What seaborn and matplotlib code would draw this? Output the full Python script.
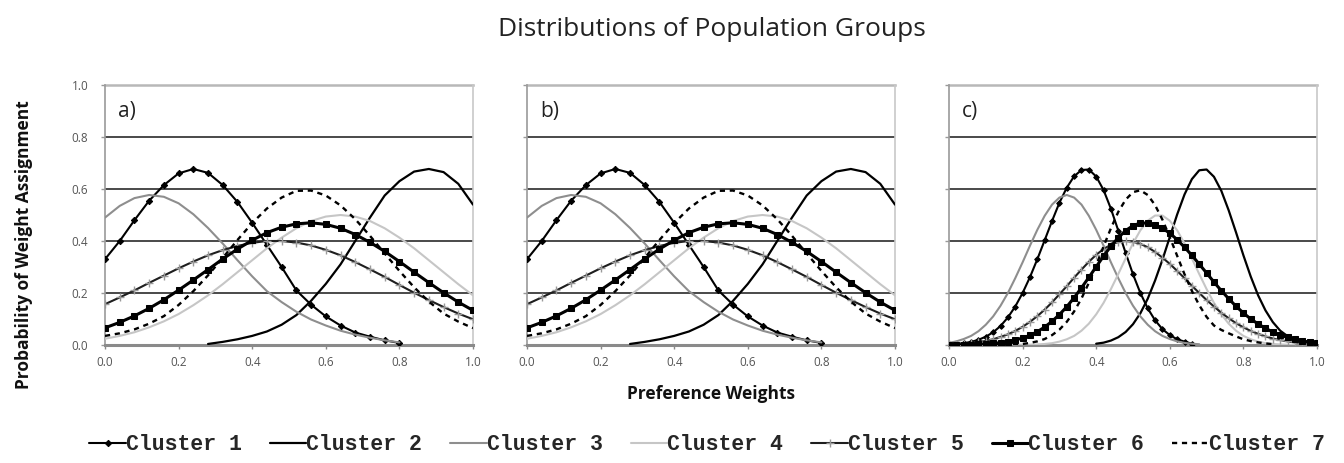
import numpy as np
import matplotlib
matplotlib.use("Agg")
import matplotlib.pyplot as plt
import seaborn as sns
from matplotlib.font_manager import FontProperties

nan = np.nan

# ---------------- data ----------------
# x positions for panels a) and b)
X_ab = [0.00, 0.04, 0.08, 0.12, 0.16, 0.20, 0.24, 0.28, 0.32, 0.36, 0.40, 0.44, 0.48,
        0.52, 0.56, 0.60, 0.64, 0.68, 0.72, 0.76, 0.80, 0.84, 0.88, 0.92, 0.96, 1.00]
# x positions for panel c)
X_c = [0.00, 0.02, 0.04, 0.06, 0.08, 0.10, 0.12, 0.14, 0.16, 0.18, 0.20, 0.22, 0.24,
       0.26, 0.28, 0.30, 0.32, 0.34, 0.36, 0.38, 0.40, 0.42, 0.44, 0.46, 0.48, 0.50,
       0.52, 0.54, 0.56, 0.58, 0.60, 0.62, 0.64, 0.66, 0.68, 0.70, 0.72, 0.74, 0.76,
       0.78, 0.80, 0.82, 0.84, 0.86, 0.88, 0.90, 0.92, 0.94, 0.96, 0.98, 1.00]

panel_labels = ["a)", "b)", "c)"]
cluster_names = ["Cluster 1", "Cluster 2", "Cluster 3", "Cluster 4",
                 "Cluster 5", "Cluster 6", "Cluster 7"]
x_ticks = [0.0, 0.2, 0.4, 0.6, 0.8, 1.0]
x_tick_labels = ["0.0", "0.2", "0.4", "0.6", "0.8", "1.0"]
y_ticks = [0.0, 0.2, 0.4, 0.6, 0.8, 1.0]
y_tick_labels = ["0.0", "0.2", "0.4", "0.6", "0.8", "1.0"]

# panels a) and b)
c1_ab = [0.33, 0.40, 0.48, 0.555, 0.615, 0.66, 0.677, 0.662, 0.615, 0.55, 0.47, 0.385, 0.30,
         0.21, 0.155, 0.11, 0.075, 0.048, 0.032, 0.018, 0.008, nan, nan, nan, nan, nan]
c2_ab = [nan, nan, nan, nan, nan, nan, nan, 0.004, 0.012, 0.022, 0.035, 0.052, 0.078,
         0.115, 0.17, 0.235, 0.31, 0.40, 0.49, 0.575, 0.63, 0.667, 0.677, 0.665, 0.62, 0.54]
c3_ab = [0.49, 0.535, 0.565, 0.577, 0.57, 0.545, 0.503, 0.45, 0.39, 0.326, 0.264, 0.207, 0.165,
         0.128, 0.098, 0.075, 0.055, 0.04, 0.028, 0.018, 0.01, nan, nan, nan, nan, nan]
c4_ab = [0.024, 0.035, 0.049, 0.068, 0.091, 0.119, 0.153, 0.191, 0.234, 0.28, 0.326, 0.372, 0.413,
         0.449, 0.477, 0.494, 0.5, 0.494, 0.477, 0.449, 0.413, 0.372, 0.326, 0.28, 0.234, 0.191]
c5_ab = [0.157, 0.183, 0.21, 0.239, 0.267, 0.295, 0.321, 0.345, 0.365, 0.381, 0.393, 0.40, 0.40,
         0.394, 0.383, 0.366, 0.345, 0.319, 0.291, 0.262, 0.231, 0.201, 0.173, 0.146, 0.121, 0.099]
c6_ab = [0.066, 0.087, 0.112, 0.141, 0.174, 0.211, 0.25, 0.29, 0.331, 0.369, 0.403, 0.432, 0.453,
         0.466, 0.47, 0.464, 0.449, 0.425, 0.395, 0.36, 0.321, 0.28, 0.24, 0.201, 0.165, 0.133]
c7_ab = [0.035, 0.045, 0.06, 0.082, 0.111, 0.154, 0.207, 0.268, 0.335, 0.404, 0.469, 0.525, 0.567,
         0.593, 0.594, 0.575, 0.537, 0.484, 0.42, 0.352, 0.285, 0.222, 0.167, 0.121, 0.09, 0.065]

# panel c)
c1_c = [0.002, 0.004, 0.007, 0.012, 0.02, 0.032, 0.049, 0.073, 0.106, 0.148, 0.2, 0.261, 0.33,
        0.403, 0.477, 0.547, 0.605, 0.649, 0.673, 0.675, 0.648, 0.596, 0.524, 0.44, 0.354, 0.272,
        0.2, 0.141, 0.095, 0.061, 0.038, 0.022, 0.013, 0.005, nan, nan, nan, nan, nan,
        nan, nan, nan, nan, nan, nan, nan, nan, nan, nan, nan, nan]
c2_c = [nan, nan, nan, nan, nan, nan, nan, nan, nan, nan, nan, nan, nan,
        nan, nan, nan, nan, nan, nan, nan, 0.005, 0.009, 0.017, 0.03, 0.05, 0.08,
        0.122, 0.178, 0.248, 0.328, 0.415, 0.502, 0.579, 0.638, 0.672, 0.675, 0.647, 0.593, 0.518,
        0.433, 0.345, 0.263, 0.191, 0.133, 0.088, 0.055, 0.034, 0.019, 0.011, 0.006, 0.003]
c3_c = [0.008, 0.014, 0.023, 0.035, 0.053, 0.078, 0.11, 0.151, 0.2, 0.257, 0.318, 0.382, 0.443,
        0.497, 0.54, 0.567, 0.577, 0.567, 0.54, 0.497, 0.443, 0.382, 0.318, 0.257, 0.2, 0.151,
        0.11, 0.078, 0.053, 0.035, 0.023, 0.014, 0.008, 0.005, 0.003, nan, nan, nan, nan,
        nan, nan, nan, nan, nan, nan, nan, nan, nan, nan, nan, nan]
c4_c = [nan, nan, nan, nan, nan, nan, 0.0, 0.0, 0.0, 0.0, 0.001, 0.001, 0.002,
        0.004, 0.007, 0.013, 0.022, 0.035, 0.055, 0.082, 0.118, 0.162, 0.215, 0.273, 0.333, 0.391,
        0.441, 0.478, 0.498, 0.498, 0.478, 0.441, 0.391, 0.333, 0.273, 0.215, 0.162, 0.118, 0.082,
        0.055, 0.035, 0.022, 0.013, 0.007, 0.004, 0.002, 0.001, 0.0, nan, nan, nan]
c5_c = [0.002, 0.004, 0.005, 0.008, 0.011, 0.016, 0.022, 0.031, 0.041, 0.054, 0.07, 0.089, 0.111,
        0.136, 0.164, 0.195, 0.226, 0.259, 0.29, 0.32, 0.347, 0.369, 0.386, 0.396, 0.40, 0.397,
        0.389, 0.376, 0.358, 0.336, 0.312, 0.285, 0.257, 0.228, 0.2, 0.173, 0.148, 0.124, 0.103,
        0.084, 0.068, 0.054, 0.043, 0.033, 0.025, 0.019, 0.014, 0.01, 0.007, 0.005, 0.004]
c6_c = [0.0, 0.0, 0.001, 0.001, 0.002, 0.004, 0.006, 0.009, 0.013, 0.019, 0.027, 0.037, 0.051,
        0.069, 0.091, 0.117, 0.147, 0.182, 0.22, 0.26, 0.301, 0.342, 0.38, 0.413, 0.44, 0.459,
        0.469, 0.469, 0.462, 0.449, 0.43, 0.405, 0.376, 0.345, 0.311, 0.277, 0.242, 0.209, 0.178,
        0.149, 0.123, 0.1, 0.081, 0.064, 0.05, 0.038, 0.029, 0.022, 0.016, 0.011, 0.008]
c7_c = [nan, nan, nan, nan, nan, nan, 0.0, 0.0, 0.001, 0.002, 0.004, 0.008, 0.014,
        0.023, 0.038, 0.059, 0.089, 0.129, 0.179, 0.239, 0.307, 0.379, 0.449, 0.512, 0.559, 0.588,
        0.595, 0.577, 0.538, 0.482, 0.415, 0.343, 0.272, 0.208, 0.153, 0.108, 0.075, 0.058, 0.045,
        0.033, 0.022, 0.015, 0.01, 0.006, 0.003, nan, nan, nan, nan, nan, nan]

series_ab = [c1_ab, c2_ab, c3_ab, c4_ab, c5_ab, c6_ab, c7_ab]
series_c = [c1_c, c2_c, c3_c, c4_c, c5_c, c6_c, c7_c]
panel_x = [X_ab, X_ab, X_c]
panel_series = [series_ab, series_ab, series_c]

# ---------------- styles ----------------
styles = {
    "Cluster 1": dict(color="black", lw=1.5, marker="D", markersize=3.2,
                      markeredgecolor="black", markerfacecolor="black", linestyle="-"),
    "Cluster 2": dict(color="black", lw=1.6, linestyle="-"),
    "Cluster 3": dict(color="#8e8e8e", lw=1.5, linestyle="-"),
    "Cluster 4": dict(color="#c6c6c6", lw=1.5, linestyle="-"),
    "Cluster 5": dict(color="#1e1e1e", lw=1.5, marker="+", markersize=6,
                      markeredgecolor="#9a9a9a", markeredgewidth=1.0, linestyle="-"),
    "Cluster 6": dict(color="black", lw=2.2, marker="s", markersize=4.2,
                      markeredgecolor="black", markerfacecolor="black", linestyle="-"),
    "Cluster 7": dict(color="black", lw=1.7, linestyle=(0, (2.2, 2.0))),
}
draw_order = [3, 2, 1, 4, 6, 5, 0]

sns.set_theme(style="white")
plt.rcParams["font.family"] = ["Open Sans", "DejaVu Sans"]

W, H = 1344, 463
fig = plt.figure(figsize=(W / 100, H / 100), dpi=100)
lefts = [105, 527, 949]
axes = [fig.add_axes([l / W, 1 - 345 / H, 368 / W, 260 / H]) for l in lefts]

for pi, ax in enumerate(axes):
    data = panel_series[pi]
    xs = panel_x[pi]
    for ci in draw_order:
        name = cluster_names[ci]
        st = dict(styles[name])
        if pi == 2 and "markersize" in st:
            st["markersize"] = st["markersize"] * 0.9
        sns.lineplot(x=xs, y=data[ci], ax=ax, label=name, zorder=3 + ci * 0.1, **st)
    if ax.get_legend() is not None:
        ax.get_legend().remove()

    ax.set_xlim(0, 1)
    ax.set_ylim(0, 1)
    ax.set_xticks(x_ticks)
    ax.set_xticklabels(x_tick_labels)
    ax.set_yticks(y_ticks)
    ax.set_yticklabels(y_tick_labels)
    ax.set_xlabel("")
    ax.set_ylabel("")
    ax.set_axisbelow(True)
    ax.yaxis.grid(True, color="#3a3a3a", lw=1.3)
    ax.xaxis.grid(False)
    ax.spines["top"].set_color("#b8b8b8")
    ax.spines["top"].set_linewidth(1.8)
    ax.spines["top"].set_zorder(2)
    ax.spines["right"].set_color("#c8c8c8")
    ax.spines["right"].set_linewidth(1.2)
    ax.spines["left"].set_color("#9a9a9a")
    ax.spines["left"].set_linewidth(1.2)
    ax.spines["bottom"].set_color("#8a8a8a")
    ax.spines["bottom"].set_linewidth(2.2)
    ax.tick_params(axis="x", bottom=True, direction="out", length=3, width=1,
                   color="#888888", labelsize=8.5, labelcolor="#555555", pad=5)
    ax.tick_params(axis="y", left=True, direction="out", length=3, width=1,
                   color="#999999", labelsize=8.5, labelcolor="#555555", pad=9,
                   labelleft=(pi == 0))
    ax.text(0.035, 0.9, panel_labels[pi], transform=ax.transAxes, fontsize=15,
            ha="left", va="center", color="#222222")

# legend
h, l = axes[0].get_legend_handles_labels()
hl = dict(zip(l, h))
handles = [hl[n] for n in cluster_names]
fig.legend(handles, cluster_names, loc="center", bbox_to_anchor=(707 / W, 1 - 445 / H),
           ncol=7, frameon=False,
           prop=FontProperties(family="Liberation Mono", weight="bold", size=15.5),
           handlelength=1.7, handletextpad=0.0, columnspacing=1.3,
           borderaxespad=0, borderpad=0, numpoints=1)

fig.text(712 / W, 1 - 29 / H, "Distributions of Population Groups", ha="center",
         va="center", fontsize=19, color="#222222")
fig.text(24 / W, 1 - 245 / H, "Probability of Weight Assignment", rotation=90,
         ha="center", va="center", fontsize=12.5, fontweight="bold", color="#111111")
fig.text(711 / W, 1 - 394 / H, "Preference Weights", ha="center", va="center",
         fontsize=12.5, fontweight="bold", color="#111111")

fig.savefig("out.png", dpi=100)
